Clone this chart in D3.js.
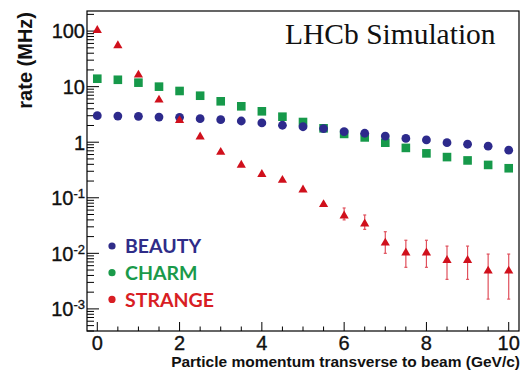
<!DOCTYPE html>
<html><head><meta charset="utf-8">
<script src="https://cdn.jsdelivr.net/npm/d3@7"></script>
<style>body{margin:0;background:#fff} svg{display:block}</style>
</head><body>
<svg id="c" width="530" height="379"></svg>
<script>
// ---- data ----
const pt = [0,0.5,1,1.5,2,2.5,3,3.5,4,4.5,5,5.5,6,6.5,7,7.5,8,8.5,9,9.5,10];
const beauty = [3.0,2.96,2.93,2.84,2.81,2.65,2.54,2.41,2.22,2.02,1.90,1.76,1.55,1.45,1.29,1.17,1.10,0.98,0.92,0.85,0.72];
const charm  = [13.9,13.3,11.8,10.0,8.36,6.87,5.45,4.43,3.60,2.88,2.31,1.78,1.41,1.22,0.98,0.79,0.63,0.54,0.47,0.39,0.34];
const strange = [109,58,17.2,6.1,2.6,1.32,0.70,0.41,0.279,0.219,0.147,0.080,0.050,0.0359,0.0163,0.0108,0.0108,0.0079,0.0079,0.0051,0.0051];
const strangeHi = [null,null,null,null,null,null,null,null,null,null,null,null,0.0655,0.049,0.0245,0.0172,0.0172,0.0135,0.0135,0.0097,0.0097];
const strangeLo = [null,null,null,null,null,null,null,null,null,null,null,null,0.040,0.027,0.0100,0.0056,0.0056,0.0034,0.0034,0.0015,0.0015];
const yTickVals = [100,10,1,0.1,0.01,0.001];
const xTickVals = [0,2,4,6,8,10];
const legendLabels = ["BEAUTY","CHARM","STRANGE"];
const titleText = "LHCb Simulation";
const xTitle = "Particle momentum transverse to beam (GeV/c)";
const yTitle = "rate (MHz)";

// ---- styles ----
const colB = "#2d2a8c", colC = "#16994a", colS = "#d0101c";
const legendCols = ["#2f2c88", "#1a9a4a", "#d81e24"];
const L = 87, R = 519, T = 11, B = 331;

const svg = d3.select("#c");
const x = d3.scaleLinear().domain([-0.25, 10.25]).range([L, R]);
const y = d3.scaleLog().domain([4e-4, 230]).range([B, T]);

// frame
svg.append("rect").attr("x", L).attr("y", T).attr("width", R - L).attr("height", B - T)
  .attr("fill", "none").attr("stroke", "#000").attr("stroke-width", 1.2);

// y ticks (log, inside)
const yMinor = [];
for (let e = -4; e <= 2; e++) for (let m = 1; m <= 9; m++) {
  const v = m * Math.pow(10, e);
  if (v >= 4e-4 && v <= 230) yMinor.push({v, major: m === 1});
}
svg.append("g").selectAll("line").data(yMinor).join("line")
  .attr("x1", L).attr("x2", d => L + (d.major ? 12 : 7))
  .attr("y1", d => y(d.v)).attr("y2", d => y(d.v))
  .attr("stroke", "#000").attr("stroke-width", 1);

// x ticks (inside, up)
const xMinor = pt.map(v => ({v, major: xTickVals.includes(v)}));
svg.append("g").selectAll("line").data(xMinor).join("line")
  .attr("x1", d => x(d.v)).attr("x2", d => x(d.v))
  .attr("y1", B).attr("y2", d => B - (d.major ? 9 : 4.5))
  .attr("stroke", "#000").attr("stroke-width", 1);

const tickFont = "'Liberation Sans', Arial, sans-serif";
// y tick labels
const yl = svg.append("g").selectAll("text").data(yTickVals).join("text")
  .attr("x", 85).attr("y", d => y(d) + 7.3)
  .attr("text-anchor", "end").attr("font-family", tickFont)
  .attr("font-size", 20).attr("fill", "#111")
  .attr("stroke", "#111").attr("stroke-width", 0.35);
yl.each(function(d) {
  const t = d3.select(this);
  if (d >= 1) t.text(d3.format("d")(d));
  else {
    t.append("tspan").text("10");
    t.append("tspan").attr("font-size", 13).attr("dy", -7).text("-" + Math.round(-Math.log10(d)));
  }
});

// x tick labels
svg.append("g").selectAll("text").data(xTickVals).join("text")
  .attr("x", d => x(d)).attr("y", 350).attr("text-anchor", "middle")
  .attr("font-family", tickFont).attr("font-size", 20).attr("fill", "#111")
  .attr("stroke", "#111").attr("stroke-width", 0.35)
  .text(d => d);

// axis titles
svg.append("text").attr("x", 520).attr("y", 367).attr("text-anchor", "end")
  .attr("font-family", tickFont).attr("font-weight", "bold").attr("font-size", 15.5).attr("fill", "#111")
  .text(xTitle);
svg.append("text").attr("transform", "translate(32,12) rotate(-90)").attr("text-anchor", "end")
  .attr("font-family", tickFont).attr("font-weight", "bold").attr("font-size", 20).attr("fill", "#111")
  .text(yTitle);

// LHCb label
svg.append("text").attr("x", 285).attr("y", 43.5)
  .attr("font-family", "'Liberation Serif', 'Times New Roman', serif").attr("font-size", 29.5).attr("fill", "#111")
  .text(titleText);

// strange error bars
const errIdx = pt.map((p, i) => i).filter(i => strangeHi[i] != null);
const eg = svg.append("g").attr("stroke", "#e0505c").attr("stroke-width", 1.2);
eg.selectAll("line.v").data(errIdx).join("line").attr("class", "v")
  .attr("x1", i => x(pt[i])).attr("x2", i => x(pt[i]))
  .attr("y1", i => y(strangeHi[i])).attr("y2", i => y(strangeLo[i]));
eg.selectAll("line.h").data(errIdx).join("line").attr("class", "h")
  .attr("x1", i => x(pt[i]) - 1.5).attr("x2", i => x(pt[i]) + 1.5)
  .attr("y1", i => y(strangeHi[i])).attr("y2", i => y(strangeHi[i]));
eg.selectAll("line.l").data(errIdx).join("line").attr("class", "l")
  .attr("x1", i => x(pt[i]) - 1.5).attr("x2", i => x(pt[i]) + 1.5)
  .attr("y1", i => y(strangeLo[i])).attr("y2", i => y(strangeLo[i]));

// markers: draw charm (squares), then beauty (circles), then strange (triangles)
svg.append("g").selectAll("rect").data(pt).join("rect")
  .attr("x", (d, i) => x(d) - 4.3).attr("y", (d, i) => y(charm[i]) - 4.3)
  .attr("width", 8.6).attr("height", 8.6).attr("fill", colC);
svg.append("g").selectAll("circle").data(pt).join("circle")
  .attr("cx", d => x(d)).attr("cy", (d, i) => y(beauty[i])).attr("r", 4.4).attr("fill", colB);
const tri = "M0,-3.9L4.6,3.9L-4.6,3.9Z";
svg.append("g").selectAll("path").data(pt).join("path")
  .attr("d", tri).attr("fill", colS)
  .attr("transform", (d, i) => `translate(${x(d)},${y(strange[i])})`);

// legend
const lg = svg.append("g");
legendLabels.forEach((lab, i) => {
  const cy = 246 + i * 26.7;
  lg.append("circle").attr("cx", 112).attr("cy", cy).attr("r", 3.6).attr("fill", legendCols[i]);
  lg.append("text").attr("x", 125).attr("y", cy + 7.2)
    .attr("font-family", "Lato, 'Liberation Sans', sans-serif").attr("font-weight", "bold")
    .attr("font-size", 19.5).attr("fill", legendCols[i]).text(lab);
});
</script>
</body></html>
